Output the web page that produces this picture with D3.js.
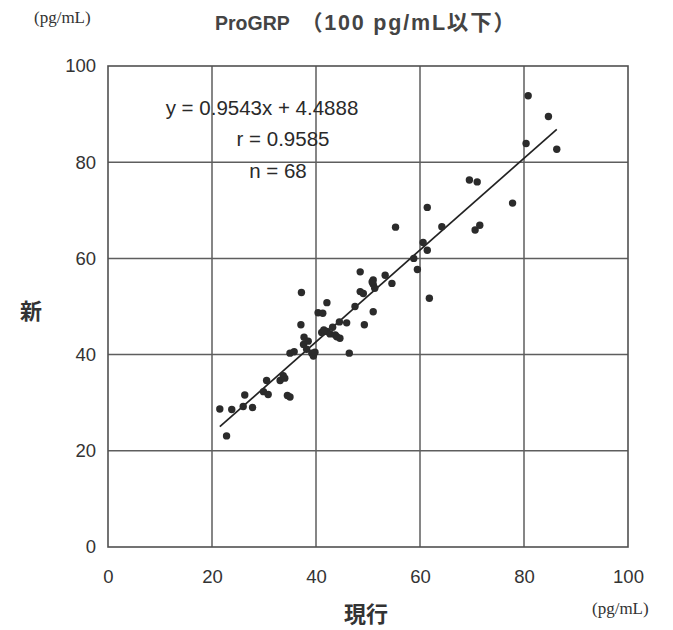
<!DOCTYPE html>
<html><head><meta charset="utf-8">
<script src="https://cdn.jsdelivr.net/npm/d3@7"></script>
<style>body{margin:0;background:#fff;}svg{display:block;}</style>
</head><body>
<svg id="c" width="673" height="630"></svg>
<script>
const xVals = [21.5,23.8,22.8,26.0,26.3,27.8,29.9,30.5,30.8,33.1,34.0,34.5,33.7,
  35.0,35.8,37.6,37.7,38.2,39.2,39.5,37.1,37.2,40.4,41.3,42.1,41.1,42.1,42.7,43.7,44.6,43.2,44.5,45.9,46.4,49.3,47.5,
  48.5,49.1,48.5,51.0,51.0,51.3,53.3,54.6,51.0,
  55.3,59.5,58.8,60.6,61.4,61.4,64.2,61.8,70.6,71.5,69.5,71.0,77.8,80.4,80.8,84.7,86.3,
  35.0,39.8,38.5,44.0,41.5,50.8];
const yVals = [28.7,28.6,23.1,29.2,31.6,29.0,32.3,34.6,31.7,34.6,35.1,31.5,35.6,
  40.3,40.6,42.1,43.6,41.1,40.3,39.7,46.2,52.9,48.7,48.6,50.8,44.6,44.8,44.3,44.1,43.4,45.7,46.8,46.6,40.3,46.2,50.0,
  53.1,52.7,57.2,55.5,54.6,53.8,56.5,54.8,48.9,
  66.5,57.7,60.0,63.3,61.7,70.6,66.6,51.7,65.9,66.9,76.3,75.9,71.5,83.9,93.8,89.5,82.7,
  31.2,40.5,42.8,43.7,45.1,55.1];
const xTicks = [0,20,40,60,80,100];
const yTicks = [0,20,40,60,80,100];
const slope = 0.9543, intercept = 4.4888;
const statLines = ["y = 0.9543x + 4.4888", "r = 0.9585", "n = 68"];
const titleMain = "ProGRP", titleSub = "（100 pg/mL以下）";
const xLabel = "現行", yLabel = "新", unitText = "(pg/mL)";

const svg = d3.select("#c");
const L = 108, R = 628, T = 66, B = 547;
const x = d3.scaleLinear().domain([0,100]).range([L,R]);
const y = d3.scaleLinear().domain([0,100]).range([B,T]);
const sans = "'Liberation Sans', Arial, sans-serif";
const serif = "'Liberation Serif', 'Times New Roman', serif";
const cjk = "'Liberation Sans', 'Noto Sans CJK JP', sans-serif";

// grid
const g = svg.append("g");
g.selectAll("line.vx").data(xTicks.slice(1,-1)).join("line")
  .attr("x1",d=>x(d)).attr("x2",d=>x(d)).attr("y1",T).attr("y2",B)
  .attr("stroke","#5e5e5e").attr("stroke-width",1.5);
g.selectAll("line.hy").data(yTicks.slice(1,-1)).join("line")
  .attr("y1",d=>y(d)).attr("y2",d=>y(d)).attr("x1",L).attr("x2",R)
  .attr("stroke","#5e5e5e").attr("stroke-width",1.5);
g.append("rect").attr("x",L).attr("y",T).attr("width",R-L).attr("height",B-T)
  .attr("fill","none").attr("stroke","#505050").attr("stroke-width",1.6);

// axes (labels only)
const xa = svg.append("g").attr("transform",`translate(0,${B})`)
  .call(d3.axisBottom(x).tickValues(xTicks).tickSize(0).tickPadding(23).tickFormat(d3.format("d")));
xa.select(".domain").remove();
xa.selectAll("text").attr("font-family",sans).attr("font-size",18.5).attr("fill","#333");
const ya = svg.append("g").attr("transform",`translate(${L},0)`)
  .call(d3.axisLeft(y).tickValues(yTicks).tickSize(0).tickPadding(12).tickFormat(d3.format("d")));
ya.select(".domain").remove();
ya.selectAll("text").attr("font-family",sans).attr("font-size",18.5).attr("fill","#333");

// regression line
const xmin = d3.min(xVals), xmax = d3.max(xVals);
svg.append("line")
  .attr("x1",x(xmin)).attr("y1",y(slope*xmin+intercept))
  .attr("x2",x(xmax)).attr("y2",y(slope*xmax+intercept))
  .attr("stroke","#222").attr("stroke-width",1.7);

// points
svg.append("g").selectAll("circle").data(xVals.map((v,i)=>[v,yVals[i]])).join("circle")
  .attr("cx",d=>x(d[0])).attr("cy",d=>y(d[1])).attr("r",3.7).attr("fill","#2b2b2b");

// stats text
const st = svg.append("g").attr("font-family",sans).attr("font-size",20.5).attr("fill","#2a2a2a");
st.append("text").attr("x",262).attr("y",115).attr("text-anchor","middle").text(statLines[0]);
st.append("text").attr("x",283).attr("y",146).attr("text-anchor","middle").text(statLines[1]);
st.append("text").attr("x",278).attr("y",178).attr("text-anchor","middle").text(statLines[2]);

// title
svg.append("text").attr("x",215).attr("y",30)
  .attr("font-family",sans).attr("font-size",19.5).attr("font-weight","bold")
  .attr("fill","#444").text(titleMain);
svg.append("text").attr("x",301).attr("y",30)
  .attr("font-family",cjk).attr("font-size",21.5).attr("font-weight","bold")
  .attr("letter-spacing",1.8).attr("fill","#444").text(titleSub);
svg.append("text").attr("x",34).attr("y",23).attr("font-family",serif).attr("font-size",17)
  .attr("fill","#333").text(unitText);
svg.append("text").attr("x",592).attr("y",614).attr("font-family",serif).attr("font-size",17)
  .attr("fill","#333").text(unitText);

// axis titles
svg.append("text").attr("x",366).attr("y",622).attr("text-anchor","middle")
  .attr("font-family","'Noto Sans CJK JP', sans-serif").attr("font-weight","bold").attr("font-size",22)
  .attr("fill","#333").text(xLabel);
svg.append("text").attr("x",31).attr("y",319).attr("text-anchor","middle")
  .attr("font-family","'Noto Sans CJK JP', sans-serif").attr("font-weight","bold").attr("font-size",22)
  .attr("fill","#333").text(yLabel);
</script>
</body></html>
